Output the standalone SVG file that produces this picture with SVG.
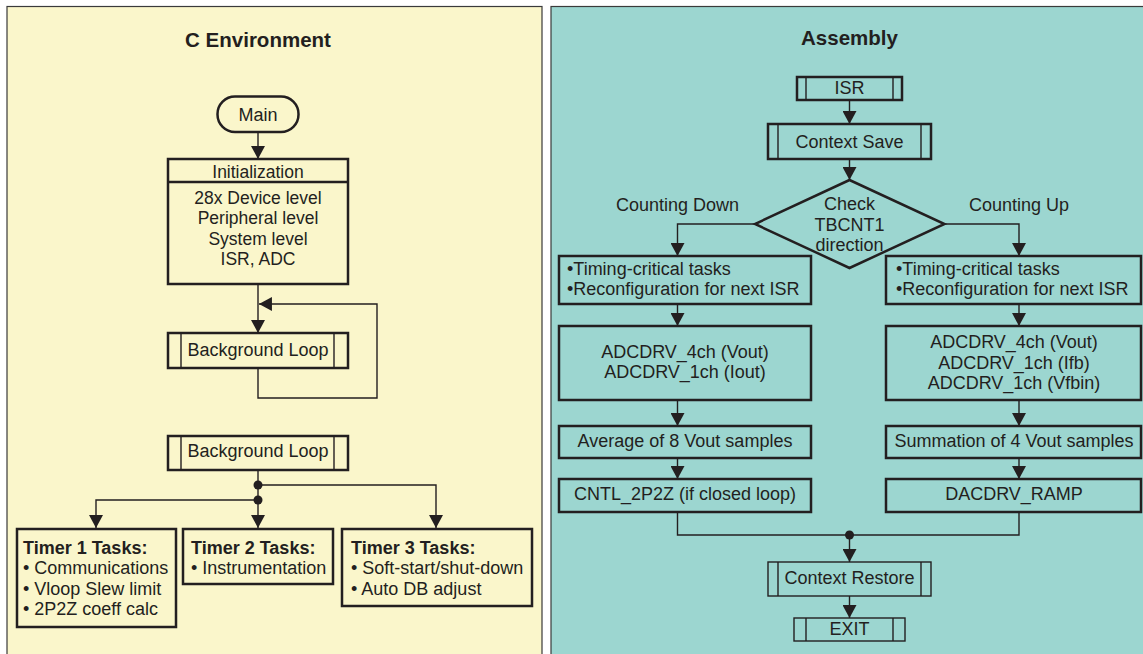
<svg xmlns="http://www.w3.org/2000/svg" width="1143" height="654" viewBox="0 0 1143 654">
<style>
text{font-family:"Liberation Sans",Arial,sans-serif;font-size:18px;fill:#231F20}
.t{font-weight:bold;font-size:20.5px}
.b{font-weight:bold}
.c{text-anchor:middle}
.box{fill:none;stroke:#231F20;stroke-width:2.5}
.thin{fill:none;stroke:#231F20;stroke-width:1.4}
.in{stroke:#231F20;stroke-width:1.4}
.con{fill:none;stroke:#231F20;stroke-width:1.4}
.dot{fill:#231F20}
</style>
<defs>
<marker id="ah" markerUnits="userSpaceOnUse" markerWidth="14" markerHeight="14" viewBox="0 0 13 13" refX="12" refY="6.5" orient="auto">
<path d="M0,0 L12,6.5 L0,13 Z" fill="#231F20"/>
</marker>
</defs>
<rect x="0" y="0" width="1143" height="654" fill="#FFFFFF"/>
<rect id="panel-c" x="7" y="6.5" width="535" height="660" fill="#FAF6CB" stroke="#3A3A3A" stroke-width="1.2"/>
<rect id="panel-asm" x="551" y="6.5" width="600" height="660" fill="#9CD6D0" stroke="#3A3A3A" stroke-width="1.2"/>
<text class="t c" x="258" y="47">C Environment</text>
<text class="t c" x="849.5" y="45">Assembly</text>

<g id="connectors">
<path class="con" d="M258,132 V159" marker-end="url(#ah)"/>
<path class="con" d="M258,284 V333" marker-end="url(#ah)"/>
<path class="con" d="M258,368 V398 H377 V304 H259" marker-end="url(#ah)"/>
<path class="con" d="M258,470 V528" marker-end="url(#ah)"/>
<path class="con" d="M258,485 H436 V528" marker-end="url(#ah)"/>
<path class="con" d="M258,500 H96 V528" marker-end="url(#ah)"/>
<circle class="dot" cx="258" cy="485" r="4.5"/>
<circle class="dot" cx="258" cy="500" r="4.5"/>
<path class="con" d="M849.5,100 V124" marker-end="url(#ah)"/>
<path class="con" d="M849.5,159 V180" marker-end="url(#ah)"/>
<path class="con" d="M755,224 H677.5 V256" marker-end="url(#ah)"/>
<path class="con" d="M944.5,224 H1019 V256" marker-end="url(#ah)"/>
<path class="con" d="M677.5,304 V326" marker-end="url(#ah)"/>
<path class="con" d="M677.5,400 V426" marker-end="url(#ah)"/>
<path class="con" d="M677.5,458 V479" marker-end="url(#ah)"/>
<path class="con" d="M1019,304 V326" marker-end="url(#ah)"/>
<path class="con" d="M1019,400 V426" marker-end="url(#ah)"/>
<path class="con" d="M1019,458 V479" marker-end="url(#ah)"/>
<path class="con" d="M677.5,512 V535 H1019 V512"/>
<circle class="dot" cx="849.5" cy="535" r="4.5"/>
<path class="con" d="M849.5,535 V562" marker-end="url(#ah)"/>
<path class="con" d="M849.5,596 V618" marker-end="url(#ah)"/>
</g>

<g id="main">
<rect class="box" x="217.5" y="96.5" width="81" height="35.5" rx="17.5"/>
<text class="c" x="258" y="121">Main</text>
</g>
<g id="init">
<rect class="box" x="168" y="159" width="180" height="125" fill="#FAF6CB"/>
<line class="box" x1="168" y1="182" x2="348" y2="182"/>
<text class="c" x="258" y="178" style="font-size:17.5px">Initialization</text>
<text class="c" x="258" y="204" style="font-size:17.5px">28x Device level</text>
<text class="c" x="258" y="224" style="font-size:17.5px">Peripheral level</text>
<text class="c" x="258" y="245" style="font-size:17.5px">System level</text>
<text class="c" x="258" y="265" style="font-size:17.5px">ISR, ADC</text>
</g>
<g id="bgloop1">
<rect class="box" x="168" y="333" width="180" height="35"/>
<line class="in" x1="181" y1="333" x2="181" y2="368"/>
<line class="in" x1="334" y1="333" x2="334" y2="368"/>
<text class="c" x="258" y="356">Background Loop</text>
</g>
<g id="bgloop2">
<rect class="box" x="168" y="436" width="180" height="34"/>
<line class="in" x1="181" y1="436" x2="181" y2="470"/>
<line class="in" x1="334" y1="436" x2="334" y2="470"/>
<text class="c" x="258" y="457">Background Loop</text>
</g>
<g id="timer1">
<rect class="box" x="17" y="529" width="159" height="98"/>
<text class="b" x="23" y="554">Timer 1 Tasks:</text>
<text x="23" y="574">• Communications</text>
<text x="23" y="595">• Vloop Slew limit</text>
<text x="23" y="615">• 2P2Z coeff calc</text>
</g>
<g id="timer2">
<rect class="box" x="183" y="529" width="150" height="55"/>
<text class="b" x="191" y="554">Timer 2 Tasks:</text>
<text x="191" y="574">• Instrumentation</text>
</g>
<g id="timer3">
<rect class="box" x="342" y="529" width="190" height="77"/>
<text class="b" x="351" y="554">Timer 3 Tasks:</text>
<text x="351" y="574">• Soft-start/shut-down</text>
<text x="351" y="595">• Auto DB adjust</text>
</g>

<g id="isr">
<rect class="box" x="797" y="77" width="105" height="23"/>
<line class="in" x1="806" y1="77" x2="806" y2="100"/>
<line class="in" x1="893" y1="77" x2="893" y2="100"/>
<text class="c" x="849.5" y="94">ISR</text>
</g>
<g id="ctxsave">
<rect class="box" x="768" y="124" width="163" height="35"/>
<line class="in" x1="778" y1="124" x2="778" y2="159"/>
<line class="in" x1="921" y1="124" x2="921" y2="159"/>
<text class="c" x="849.5" y="148">Context Save</text>
</g>
<g id="check">
<polygon class="box" points="849.5,180 944.5,224 849.5,268 755,224"/>
<text class="c" x="849.5" y="210">Check</text>
<text class="c" x="849.5" y="231">TBCNT1</text>
<text class="c" x="849.5" y="251">direction</text>
</g>
<text class="c" x="677.5" y="211">Counting Down</text>
<text class="c" x="1019" y="211">Counting Up</text>
<g id="down1">
<rect class="box" x="559" y="256" width="252" height="48"/>
<text x="567" y="275">•Timing-critical tasks</text>
<text x="567" y="295">•Reconfiguration for next ISR</text>
</g>
<g id="up1">
<rect class="box" x="886" y="256" width="255" height="48"/>
<text x="896" y="275">•Timing-critical tasks</text>
<text x="896" y="295">•Reconfiguration for next ISR</text>
</g>
<g id="down2">
<rect class="box" x="559" y="326" width="252" height="74"/>
<text class="c" x="685" y="358">ADCDRV_4ch (Vout)</text>
<text class="c" x="685" y="378">ADCDRV_1ch (Iout)</text>
</g>
<g id="up2">
<rect class="box" x="886" y="326" width="255" height="74"/>
<text class="c" x="1014" y="348">ADCDRV_4ch (Vout)</text>
<text class="c" x="1014" y="369">ADCDRV_1ch (Ifb)</text>
<text class="c" x="1014" y="389">ADCDRV_1ch (Vfbin)</text>
</g>
<g id="down3">
<rect class="box" x="559" y="426" width="252" height="32"/>
<text class="c" x="685" y="447">Average of 8 Vout samples</text>
</g>
<g id="up3">
<rect class="box" x="886" y="426" width="255" height="32"/>
<text class="c" x="1014" y="447">Summation of 4 Vout samples</text>
</g>
<g id="down4">
<rect class="box" x="559" y="479" width="252" height="33"/>
<text class="c" x="685" y="500">CNTL_2P2Z (if closed loop)</text>
</g>
<g id="up4">
<rect class="box" x="886" y="479" width="255" height="33"/>
<text class="c" x="1014" y="500">DACDRV_RAMP</text>
</g>
<g id="ctxrestore">
<rect class="thin" x="768" y="562" width="163" height="34"/>
<line class="in" x1="778" y1="562" x2="778" y2="596"/>
<line class="in" x1="921" y1="562" x2="921" y2="596"/>
<text class="c" x="849.5" y="584">Context Restore</text>
</g>
<g id="exit">
<rect class="thin" x="794" y="618" width="111" height="23"/>
<line class="in" x1="806" y1="618" x2="806" y2="641"/>
<line class="in" x1="893" y1="618" x2="893" y2="641"/>
<text class="c" x="849.5" y="635">EXIT</text>
</g>
</svg>
